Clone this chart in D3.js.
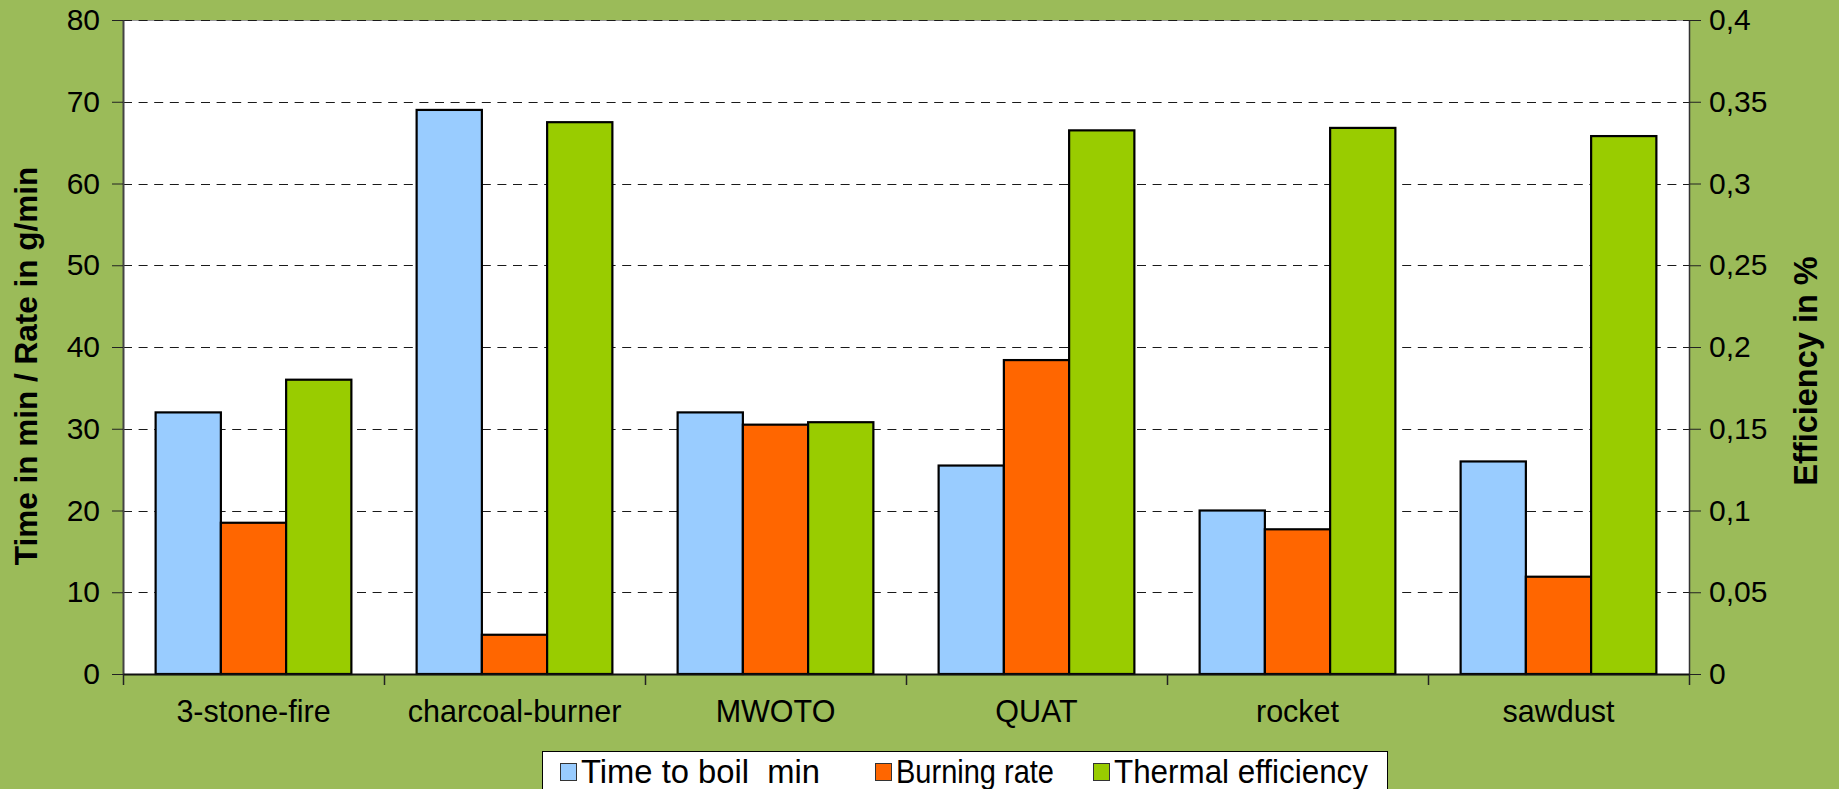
<!DOCTYPE html>
<html>
<head>
<meta charset="utf-8">
<script src="https://cdn.jsdelivr.net/npm/d3@7"></script>
<style>
  html, body { margin: 0; padding: 0; background: #9BBB59; }
  svg { display: block; font-family: "Liberation Sans", Arial, sans-serif; }
  text { white-space: pre; }
</style>
</head>
<body>
<svg id="chart" width="1839" height="789"></svg>
<script>
// ---- data ----
const categories = ["3-stone-fire", "charcoal-burner", "MWOTO", "QUAT", "rocket", "sawdust"];
const timeToBoil = [32, 69, 32, 25.5, 20, 26];
const burningRate = [18.5, 4.8, 30.5, 38.4, 17.7, 11.9];
const thermalEfficiency = [0.18, 0.3375, 0.154, 0.3325, 0.334, 0.329];
const seriesNames = ["Time to boil  min", "Burning rate", "Thermal efficiency"];
const seriesColors = ["#99CCFF", "#FF6600", "#99CC00"];
const leftTicks = [0, 10, 20, 30, 40, 50, 60, 70, 80];
const rightTicks = [0, 0.05, 0.1, 0.15, 0.2, 0.25, 0.3, 0.35, 0.4];
const leftTitle = "Time in min / Rate in g/min";
const rightTitle = "Efficiency in %";

// ---- layout ----
const W = 1839, H = 789;
const plot = { left: 123, right: 1689, top: 20, bottom: 674 };
const svg = d3.select("#chart");

svg.append("rect").attr("x", 0).attr("y", 0).attr("width", W).attr("height", H).attr("fill", "#9BBB59");
svg.append("rect")
  .attr("x", plot.left).attr("y", plot.top)
  .attr("width", plot.right - plot.left).attr("height", plot.bottom - plot.top)
  .attr("fill", "#ffffff");
svg.append("line")
  .attr("x1", plot.left).attr("x2", plot.right)
  .attr("y1", plot.top + 0.5).attr("y2", plot.top + 0.5)
  .attr("stroke", "#9a9a9a").attr("stroke-width", 1);

// ---- scales ----
const x0 = d3.scaleBand().domain(categories).range([plot.left, plot.right]).padding(0);
const x1 = d3.scaleBand().domain(seriesNames).range([0, x0.bandwidth()]).paddingInner(0).paddingOuter(0.5);
const yL = d3.scaleLinear().domain([0, 80]).range([plot.bottom, plot.top]);
const yR = d3.scaleLinear().domain([0, 0.4]).range([plot.bottom, plot.top]);

const locale = d3.formatLocale({ decimal: ",", thousands: ".", grouping: [3], currency: ["", "€"] });
const fmtR = locale.format("~g");

// ---- gridlines ----
svg.append("g").selectAll("line")
  .data(leftTicks.filter(d => d > 0))
  .join("line")
  .attr("x1", plot.left).attr("x2", plot.right)
  .attr("y1", d => Math.round(yL(d)) + 0.5).attr("y2", d => Math.round(yL(d)) + 0.5)
  .attr("stroke", "#1a1a1a").attr("stroke-width", 1)
  .attr("stroke-dasharray", "9,6.6");

// ---- bars ----
const rows = categories.map((c, i) => ({
  cat: c,
  vals: [
    { s: seriesNames[0], y: yL(timeToBoil[i]), c: seriesColors[0] },
    { s: seriesNames[1], y: yL(burningRate[i]), c: seriesColors[1] },
    { s: seriesNames[2], y: yR(thermalEfficiency[i]), c: seriesColors[2] }
  ]
}));

svg.append("g").selectAll("g")
  .data(rows)
  .join("g")
  .attr("transform", d => `translate(${x0(d.cat)},0)`)
  .selectAll("rect")
  .data(d => d.vals)
  .join("rect")
  .attr("x", d => x1(d.s))
  .attr("width", x1.bandwidth())
  .attr("y", d => d.y)
  .attr("height", d => plot.bottom - d.y)
  .attr("fill", d => d.c)
  .attr("stroke", "#000")
  .attr("stroke-width", 2.2);

// ---- axes ----
const axL = svg.append("g")
  .attr("transform", `translate(${plot.left},0)`)
  .call(d3.axisLeft(yL).tickValues(leftTicks).tickSize(11).tickPadding(12).tickSizeOuter(0));
axL.select(".domain").attr("stroke", "#444").attr("stroke-width", 2);
axL.selectAll(".tick line").attr("stroke", "#222");
axL.selectAll(".tick text").attr("font-size", 30).attr("fill", "#000")
  .attr("font-family", "'Liberation Sans', Arial, sans-serif");

const axR = svg.append("g")
  .attr("transform", `translate(${plot.right},0)`)
  .call(d3.axisRight(yR).tickValues(rightTicks).tickFormat(fmtR).tickSize(12).tickPadding(8).tickSizeOuter(0));
axR.select(".domain").attr("stroke", "#333").attr("stroke-width", 1.5);
axR.selectAll(".tick line").attr("stroke", "#222");
axR.selectAll(".tick text").attr("font-size", 30).attr("fill", "#000")
  .attr("font-family", "'Liberation Sans', Arial, sans-serif");

// bottom axis: labels centred, ticks at band boundaries
const axB = svg.append("g")
  .attr("transform", `translate(0,${plot.bottom})`)
  .call(d3.axisBottom(x0).tickSize(0).tickPadding(26));
axB.select(".domain").attr("stroke", "#111").attr("stroke-width", 2);
axB.selectAll(".tick text").attr("font-size", 30.5).attr("fill", "#000")
  .attr("font-family", "'Liberation Sans', Arial, sans-serif");
const boundaries = categories.map(c => x0(c)).concat([plot.right]);
svg.append("g").selectAll("line")
  .data(boundaries)
  .join("line")
  .attr("x1", d => Math.round(d) + 0.5).attr("x2", d => Math.round(d) + 0.5)
  .attr("y1", plot.bottom).attr("y2", plot.bottom + 11)
  .attr("stroke", "#222").attr("stroke-width", 1.5);

// ---- axis titles ----
svg.append("text")
  .attr("transform", "translate(37,366) rotate(-90)")
  .attr("text-anchor", "middle")
  .attr("font-size", 31.5).attr("font-weight", "bold")
  .text(leftTitle);
svg.append("text")
  .attr("transform", "translate(1817,371) rotate(-90)")
  .attr("text-anchor", "middle")
  .attr("font-size", 32.5).attr("font-weight", "bold")
  .text(rightTitle);

// ---- legend ----
const legend = svg.append("g");
legend.append("rect")
  .attr("x", 542.5).attr("y", 751.5).attr("width", 845).attr("height", 60)
  .attr("fill", "#fff").attr("stroke", "#000").attr("stroke-width", 1);
const legendX = [560, 875, 1093];
const legendTextLen = [239, 158, 254];
const items = legend.selectAll("g.item")
  .data(seriesNames)
  .join("g")
  .attr("class", "item")
  .attr("transform", (d, i) => `translate(${legendX[i]},0)`);
items.append("rect")
  .attr("x", 0.5).attr("y", 763.5).attr("width", 16).attr("height", 17)
  .attr("fill", (d, i) => seriesColors[i]).attr("stroke", "#333").attr("stroke-width", 1);
items.append("text")
  .attr("x", 21).attr("y", 783)
  .attr("font-size", 33)
  .attr("textLength", (d, i) => legendTextLen[i])
  .attr("lengthAdjust", "spacingAndGlyphs")
  .text(d => d);
</script>
</body>
</html>
